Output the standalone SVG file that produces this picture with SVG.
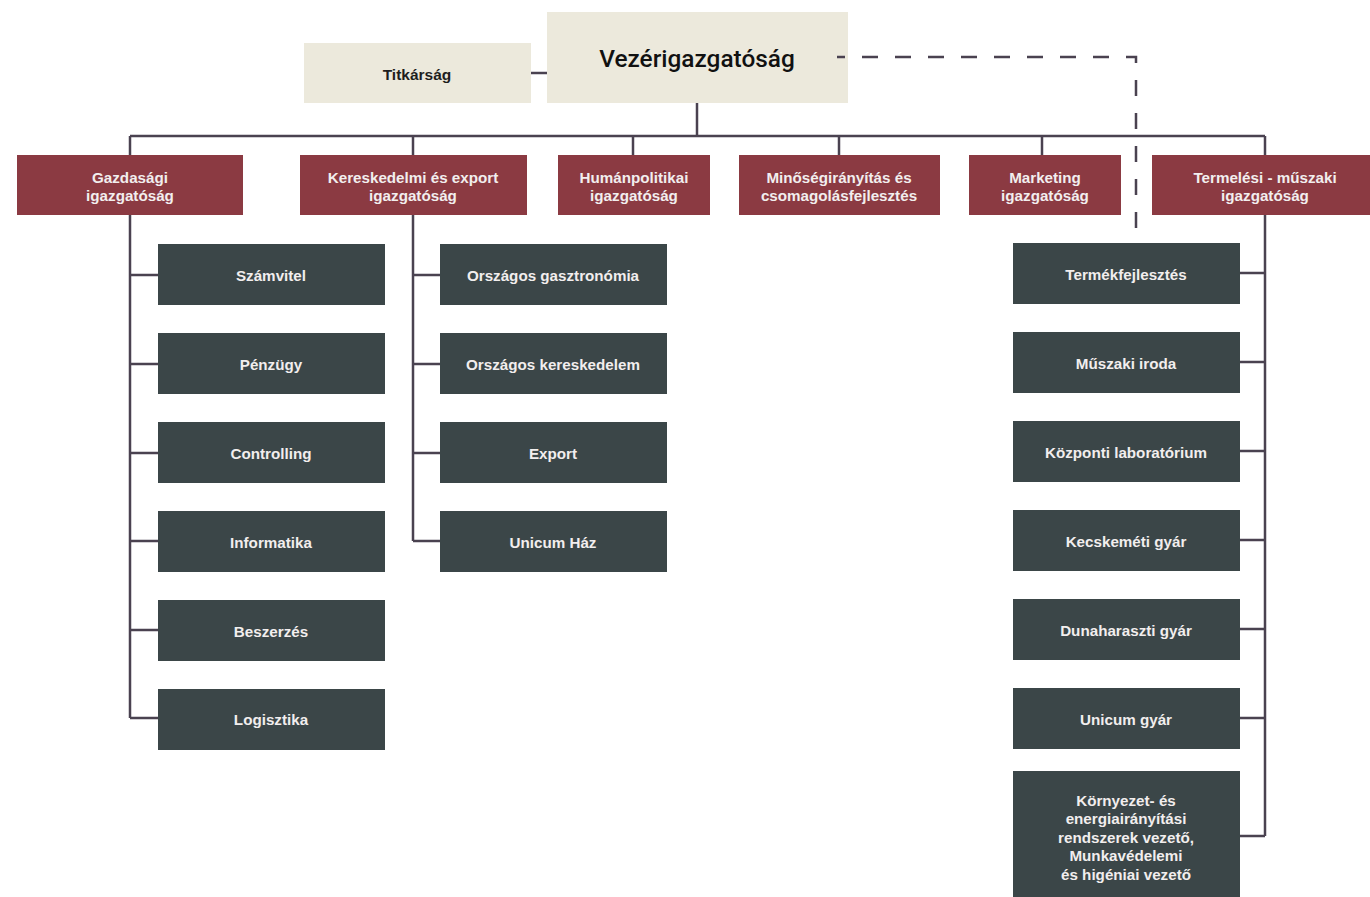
<svg xmlns="http://www.w3.org/2000/svg" width="1370" height="897" viewBox="0 0 1370 897">
<style>
.beige{fill:#ece9dc}
.red{fill:#8b3a42}
.dark{fill:#3b4648}
.t{font-family:"Liberation Sans",Arial,sans-serif;font-weight:bold;font-size:15.2px;text-anchor:middle;fill:#f2eeee}
.tb{font-family:"Liberation Sans",Arial,sans-serif;font-weight:bold;font-size:15.5px;text-anchor:middle;fill:#1e1e1e}
.title{font-family:Roboto,"Liberation Sans",sans-serif;font-weight:500;font-size:24.4px;text-anchor:middle;fill:#111}
.ln{stroke:#4a4250;stroke-width:2.5;fill:none}
.dash{stroke:#4a4250;stroke-width:2.5;fill:none;stroke-dasharray:16 17}
</style>
<rect width="1370" height="897" fill="#fff"/>
<g id="titkarsag"><rect class="beige" x="304" y="43" width="227" height="60"/><text class="tb" x="417" y="79.5">Titkárság</text></g>
<g id="vezerigazgatosag"><rect class="beige" x="547" y="12" width="301" height="91"/><text class="title" x="697" y="67">Vezérigazgatóság</text></g>
<g id="gazdasagi"><rect class="red" x="17" y="155" width="226" height="60"/><text class="t" x="130" y="182.5">Gazdasági</text><text class="t" x="130" y="200.5">igazgatóság</text></g>
<g id="kereskedelmi"><rect class="red" x="300" y="155" width="227" height="60"/><text class="t" x="413" y="182.5">Kereskedelmi és export</text><text class="t" x="413" y="200.5">igazgatóság</text></g>
<g id="human"><rect class="red" x="558" y="155" width="152" height="60"/><text class="t" x="634" y="182.5">Humánpolitikai</text><text class="t" x="634" y="200.5">igazgatóság</text></g>
<g id="minoseg"><rect class="red" x="739" y="155" width="201" height="60"/><text class="t" x="839" y="182.5">Minőségirányítás és</text><text class="t" x="839" y="200.5">csomagolásfejlesztés</text></g>
<g id="marketing"><rect class="red" x="969" y="155" width="152" height="60"/><text class="t" x="1045" y="182.5">Marketing</text><text class="t" x="1045" y="200.5">igazgatóság</text></g>
<g id="termelesi"><rect class="red" x="1152" y="155" width="218" height="60"/><text class="t" x="1265" y="182.5">Termelési - műszaki</text><text class="t" x="1265" y="200.5">igazgatóság</text></g>
<g id="szamvitel"><rect class="dark" x="158" y="244" width="227" height="61"/><text class="t" x="271" y="280.5">Számvitel</text></g>
<g id="penzugy"><rect class="dark" x="158" y="333" width="227" height="61"/><text class="t" x="271" y="369.5">Pénzügy</text></g>
<g id="controlling"><rect class="dark" x="158" y="422" width="227" height="61"/><text class="t" x="271" y="458.5">Controlling</text></g>
<g id="informatika"><rect class="dark" x="158" y="511" width="227" height="61"/><text class="t" x="271" y="547.5">Informatika</text></g>
<g id="beszerzes"><rect class="dark" x="158" y="600" width="227" height="61"/><text class="t" x="271" y="636.5">Beszerzés</text></g>
<g id="logisztika"><rect class="dark" x="158" y="689" width="227" height="61"/><text class="t" x="271" y="724.5">Logisztika</text></g>
<g id="orszagos-gasztronomia"><rect class="dark" x="440" y="244" width="227" height="61"/><text class="t" x="553" y="280.5">Országos gasztronómia</text></g>
<g id="orszagos-kereskedelem"><rect class="dark" x="440" y="333" width="227" height="61"/><text class="t" x="553" y="369.5">Országos kereskedelem</text></g>
<g id="export"><rect class="dark" x="440" y="422" width="227" height="61"/><text class="t" x="553" y="458.5">Export</text></g>
<g id="unicum-haz"><rect class="dark" x="440" y="511" width="227" height="61"/><text class="t" x="553" y="547.5">Unicum Ház</text></g>
<g id="termekfejlesztes"><rect class="dark" x="1013" y="243" width="227" height="61"/><text class="t" x="1126" y="279.5">Termékfejlesztés</text></g>
<g id="muszaki-iroda"><rect class="dark" x="1013" y="332" width="227" height="61"/><text class="t" x="1126" y="368.5">Műszaki iroda</text></g>
<g id="kozponti-laboratorium"><rect class="dark" x="1013" y="421" width="227" height="61"/><text class="t" x="1126" y="457.5">Központi laboratórium</text></g>
<g id="kecskemeti-gyar"><rect class="dark" x="1013" y="510" width="227" height="61"/><text class="t" x="1126" y="546.5">Kecskeméti gyár</text></g>
<g id="dunaharaszti-gyar"><rect class="dark" x="1013" y="599" width="227" height="61"/><text class="t" x="1126" y="635.5">Dunaharaszti gyár</text></g>
<g id="unicum-gyar"><rect class="dark" x="1013" y="688" width="227" height="61"/><text class="t" x="1126" y="724.5">Unicum gyár</text></g>
<g id="kornyezet"><rect class="dark" x="1013" y="771" width="227" height="126"/>
<text class="t" x="1126" y="805.5">Környezet- és</text>
<text class="t" x="1126" y="824">energiairányítási</text>
<text class="t" x="1126" y="842.5">rendszerek vezető,</text>
<text class="t" x="1126" y="861">Munkavédelemi</text>
<text class="t" x="1126" y="880">és higéniai vezető</text></g>
<g id="connectors">
<line class="ln" x1="531" y1="73" x2="547" y2="73"/>
<line class="ln" x1="697" y1="103" x2="697" y2="136"/>
<line class="ln" x1="130" y1="136" x2="1265" y2="136"/>
<line class="ln" x1="130" y1="136" x2="130" y2="155"/>
<line class="ln" x1="413" y1="136" x2="413" y2="155"/>
<line class="ln" x1="633" y1="136" x2="633" y2="155"/>
<line class="ln" x1="839" y1="136" x2="839" y2="155"/>
<line class="ln" x1="1042" y1="136" x2="1042" y2="155"/>
<line class="ln" x1="1265" y1="136" x2="1265" y2="155"/>
<path class="dash" d="M837 57 H1136 V233" stroke-dashoffset="8"/>
<path class="ln" d="M130 215 V718"/>
<path class="ln" d="M130 275 H158 M130 364 H158 M130 453 H158 M130 541 H158 M130 630 H158 M130 718 H158"/>
<path class="ln" d="M413 215 V541"/>
<path class="ln" d="M413 275 H440 M413 364 H440 M413 453 H440 M413 541 H440"/>
<path class="ln" d="M1265 215 V836"/>
<path class="ln" d="M1240 273 H1265 M1240 362 H1265 M1240 451 H1265 M1240 540 H1265 M1240 629 H1265 M1240 718 H1265 M1240 836 H1265"/>
</g>
</svg>
